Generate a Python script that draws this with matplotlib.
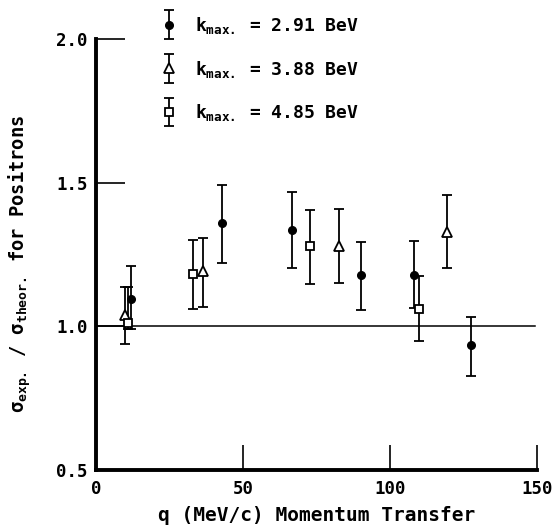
import matplotlib
matplotlib.use("Agg")
import matplotlib.pyplot as plt
from matplotlib.container import ErrorbarContainer
from matplotlib.legend_handler import HandlerErrorbar

plt.rcParams['font.family'] = ['DejaVu Sans Mono', 'DejaVu Sans']
plt.rcParams['font.weight'] = 'bold'
plt.rcParams['mathtext.fontset'] = 'custom'
plt.rcParams['mathtext.rm'] = 'DejaVu Sans Mono:bold'
plt.rcParams['mathtext.it'] = 'DejaVu Sans Mono:bold'
plt.rcParams['mathtext.bf'] = 'DejaVu Sans Mono:bold'

# ---- data ----
circle_x = [12, 43, 66.5, 90, 108, 127.5]
circle_y = [1.095, 1.36, 1.337, 1.177, 1.18, 0.934]
circle_lo = [0.99, 1.219, 1.204, 1.056, 1.064, 0.826]
circle_hi = [1.21, 1.492, 1.469, 1.295, 1.296, 1.032]

tri_x = [9.9, 36.5, 82.8, 119.3]
tri_y = [1.038, 1.194, 1.279, 1.327]
tri_lo = [0.94, 1.067, 1.15, 1.204]
tri_hi = [1.137, 1.306, 1.409, 1.458]

sq_x = [10.8, 32.9, 72.8, 110]
sq_y = [1.01, 1.183, 1.281, 1.061]
sq_lo = [0.99, 1.059, 1.148, 0.948]
sq_hi = [1.137, 1.30, 1.406, 1.175]

labels = [r'$k_{\mathrm{max.}}$ = 2.91 BeV',
          r'$k_{\mathrm{max.}}$ = 3.88 BeV',
          r'$k_{\mathrm{max.}}$ = 4.85 BeV']

x_ticks = [0, 50, 100, 150]
x_ticklabels = ['0', '50', '100', '150']
y_ticks = [0.5, 1.0, 1.5, 2.0]
y_ticklabels = ['0.5', '1.0', '1.5', '2.0']

fig = plt.figure(figsize=(5.6, 5.27), dpi=100)
ax = fig.add_axes([96/560, 1-470/527, 441/560, 431/527])

def err(y, lo, hi):
    return [[a - b for a, b in zip(y, lo)], [b - a for a, b in zip(y, hi)]]

common = dict(linestyle='none', ecolor='black', elinewidth=1.3, capsize=3.8, capthick=1.3, zorder=3)
h1 = ax.errorbar(circle_x, circle_y, yerr=err(circle_y, circle_lo, circle_hi), marker='o',
                 markersize=5.5, markerfacecolor='black', markeredgecolor='black', **common)
h2 = ax.errorbar(tri_x, tri_y, yerr=err(tri_y, tri_lo, tri_hi), marker='^',
                 markersize=6.5, markerfacecolor='white', markeredgecolor='black', markeredgewidth=1.3, **common)
h3 = ax.errorbar(sq_x, sq_y, yerr=err(sq_y, sq_lo, sq_hi), marker='s',
                 markersize=5.5, markerfacecolor='white', markeredgecolor='black', markeredgewidth=1.3, **common)

ax.axhline(1.0, xmin=0, xmax=0.995, color='black', linewidth=1.1, zorder=2)

ax.set_xlim(0, 150)
ax.set_ylim(0.5, 2.0)
ax.set_xticks(x_ticks)
ax.set_xticklabels(x_ticklabels)
ax.set_yticks(y_ticks)
ax.set_yticklabels(y_ticklabels)
ax.tick_params(axis='x', direction='in', length=18, width=1.2, pad=7, labelsize=12.5)
ax.tick_params(axis='y', direction='in', length=21, width=1.2, pad=6, labelsize=12.5)

for s in ['top', 'right']:
    ax.spines[s].set_visible(False)
for s in ['left', 'bottom']:
    ax.spines[s].set_linewidth(2.8)

ax.set_xlabel('q (MeV/c) Momentum Transfer', fontsize=14, fontweight='bold', labelpad=6)
ax.set_ylabel(r'$\sigma_{\mathrm{exp.}}$ / $\sigma_{\mathrm{theor.}}$ for Positrons',
              fontsize=13.5, fontweight='bold')
ax.yaxis.set_label_coords(-0.143, 0.478)

leg = ax.legend([h1, h2, h3], labels, loc='upper left', bbox_to_anchor=(155/560, 1.0 - 8/527),
                bbox_transform=fig.transFigure, frameon=False, fontsize=13,
                handlelength=0.8, handletextpad=1.0, labelspacing=1.25, borderaxespad=0,
                handler_map={ErrorbarContainer: HandlerErrorbar(xerr_size=0.8)})

fig.savefig('out.png', dpi=100)
